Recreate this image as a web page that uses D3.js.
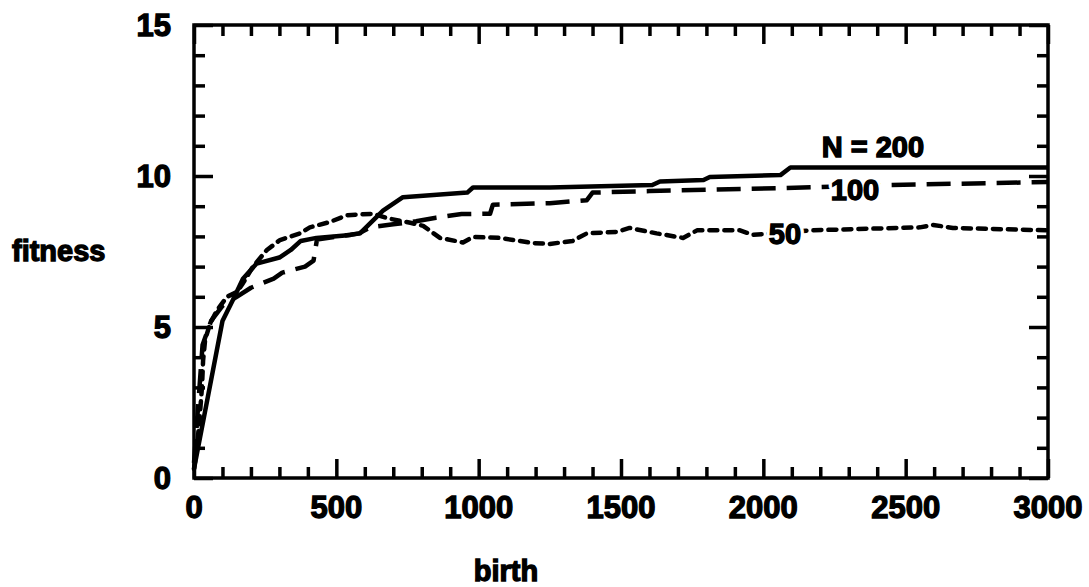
<!DOCTYPE html>
<html>
<head>
<meta charset="utf-8">
<script src="https://cdn.jsdelivr.net/npm/d3@7"></script>
<style>
    body { margin: 0; background: #fff; }
    text { font-family: "Liberation Sans", Arial, Helvetica, sans-serif; font-weight: bold; }
    .tick line { stroke: #000; stroke-width: 3.5px; }
    .domain { display: none; }
</style>
</head>
<body>
<div id="chart"></div>
<script>
// birth / fitness readings for each population size
let birth200 = [0, 100, 137, 172, 220, 300, 340, 375, 430, 550, 583, 664, 734, 960, 980, 1250, 1610, 1637, 1790, 1812, 2060, 2095, 3000];
let fit200 = [0.3, 5.2, 5.9, 6.6, 7.1, 7.3, 7.55, 7.85, 7.95, 8.05, 8.1, 8.85, 9.3, 9.45, 9.62, 9.62, 9.7, 9.82, 9.87, 9.97, 10.03, 10.28, 10.28];

let birth100 = [0, 30, 60, 100, 150, 200, 280, 310, 390, 420, 432, 580, 620, 700, 780, 850, 940, 1040, 1050, 1250, 1380, 1400, 1600, 2060, 2430, 3000];
let fit100 = [0.5, 4.4, 5.2, 5.7, 6.0, 6.3, 6.6, 6.8, 7.0, 7.2, 7.9, 8.1, 8.3, 8.4, 8.5, 8.62, 8.74, 8.75, 9.05, 9.1, 9.2, 9.45, 9.5, 9.6, 9.7, 9.8];

let birth50 = [0, 10, 21, 28, 32, 39, 56, 81, 116, 151, 172, 207, 256, 302, 372, 407, 478, 537, 630, 680, 760, 805, 864, 945, 980, 1075, 1190, 1250, 1330, 1380, 1485, 1530, 1625, 1718, 1767, 1918, 1964, 2164, 2550, 2596, 2666, 3000];
let fit50 = [0.3, 0.93, 2.15, 3.0, 3.9, 4.57, 5.1, 5.56, 6.0, 6.16, 6.45, 7.0, 7.55, 7.88, 8.1, 8.3, 8.48, 8.7, 8.75, 8.6, 8.45, 8.35, 7.95, 7.8, 7.98, 7.95, 7.78, 7.75, 7.85, 8.1, 8.15, 8.28, 8.1, 7.95, 8.2, 8.2, 8.05, 8.2, 8.3, 8.38, 8.28, 8.2];

let xTickLabels = [0, 500, 1000, 1500, 2000, 2500, 3000];
let xMinorTicks = [100, 200, 300, 400, 600, 700, 800, 900, 1100, 1200, 1300, 1400, 1600, 1700, 1800, 1900, 2100, 2200, 2300, 2400, 2600, 2700, 2800, 2900];
let yTickLabels = [0, 5, 10, 15];
let yMinorTicks = [1, 2, 3, 4, 6, 7, 8, 9, 11, 12, 13, 14];

// curve labels: text, birth, fitness (anchor point)
let seriesLabels = [
    {text: "N = 200", b: 2385, f: 10.95},
    {text: "100", b: 2322, f: 9.54},
    {text: "50", b: 2076, f: 8.1}
];

let width = 1089, height = 587;
let margin = {left: 194, right: 41, top: 25, bottom: 109};

let svg = d3.select('#chart').append('svg')
    .attr('width', width)
    .attr('height', height);

let x = d3.scaleLinear().domain([0, 3000]).range([margin.left, width - margin.right]);
let y = d3.scaleLinear().domain([0, 15]).range([height - margin.bottom, margin.top]);

let line = d3.line()
    .x(function(d){ return x(d[0]); })
    .y(function(d){ return y(d[1]); });

function pairs(bs, fs) {
    return bs.map(function(b, i){ return [b, fs[i]]; });
}

//Draw the three series
let series = [
    {data: pairs(birth50, fit50), dash: "8,7", cap: "round"},
    {data: pairs(birth100, fit100), dash: "24,11", cap: "butt"},
    {data: pairs(birth200, fit200), dash: null, cap: "butt"}
];
series.forEach(function(s){
    svg.append('path')
        .attr('d', line(s.data))
        .attr('fill', 'none')
        .attr('stroke', '#000')
        .attr('stroke-width', 4.5)
        .attr('stroke-linecap', s.cap)
        .attr('stroke-linejoin', 'round')
        .attr('stroke-dasharray', s.dash);
});

//Curve labels, white halo cuts the lines underneath
seriesLabels.forEach(function(l){
    svg.append('text')
        .attr('x', x(l.b)).attr('y', y(l.f))
        .attr('text-anchor', 'middle')
        .attr('dy', '0.35em')
        .style('font-size', '29px')
        .attr('fill', '#000')
        .attr('stroke', '#fff')
        .attr('stroke-width', 8)
        .attr('stroke-linejoin', 'round')
        .attr('paint-order', 'stroke')
        .text(l.text);
    svg.append('text')
        .attr('x', x(l.b)).attr('y', y(l.f))
        .attr('text-anchor', 'middle')
        .attr('dy', '0.35em')
        .style('font-size', '29px')
        .attr('fill', '#000')
        .attr('stroke', '#000')
        .attr('stroke-width', 1.3)
        .text(l.text);
});

//Inward ticks on all four sides, major and minor, via d3 axes
function addTicks(axisFn, scale, values, len, tx, ty) {
    svg.append('g')
        .attr('transform', 'translate(' + tx + ',' + ty + ')')
        .call(axisFn(scale).tickValues(values).tickSize(len).tickFormat(''));
}
addTicks(d3.axisBottom, x, xTickLabels, -19, 0, y(0));
addTicks(d3.axisBottom, x, xMinorTicks, -11, 0, y(0));
addTicks(d3.axisTop, x, xTickLabels, -19, 0, y(15));
addTicks(d3.axisTop, x, xMinorTicks, -11, 0, y(15));
addTicks(d3.axisLeft, y, yTickLabels, -19, x(0), 0);
addTicks(d3.axisLeft, y, yMinorTicks, -11, x(0), 0);
addTicks(d3.axisRight, y, yTickLabels, -19, x(3000), 0);
addTicks(d3.axisRight, y, yMinorTicks, -11, x(3000), 0);

//Frame
svg.append('rect')
    .attr('x', x(0)).attr('y', y(15))
    .attr('width', x(3000) - x(0)).attr('height', y(0) - y(15))
    .attr('fill', 'none')
    .attr('stroke', '#000')
    .attr('stroke-width', 3.5);

//Tick labels
svg.selectAll('text.xlab').data(xTickLabels).enter().append('text')
    .attr('class', 'xlab')
    .attr('x', function(d){ return x(d); })
    .attr('y', 518)
    .attr('text-anchor', 'middle')
    .style('font-size', '31px')
    .attr('stroke', '#000').attr('stroke-width', 1.3)
    .text(function(d){ return d; });

svg.selectAll('text.ylab').data(yTickLabels).enter().append('text')
    .attr('class', 'ylab')
    .attr('x', 171)
    .attr('y', function(d){ return y(d); })
    .attr('dy', '0.36em')
    .attr('text-anchor', 'end')
    .style('font-size', '31px')
    .attr('stroke', '#000').attr('stroke-width', 1.3)
    .text(function(d){ return d; });

//Axis titles
svg.append('text')
    .attr('x', 506).attr('y', 581)
    .attr('text-anchor', 'middle')
    .style('font-size', '29px')
    .attr('stroke', '#000').attr('stroke-width', 1.3)
    .text('birth');

svg.append('text')
    .attr('x', 12).attr('y', 261)
    .attr('text-anchor', 'start')
    .style('font-size', '29px')
    .attr('stroke', '#000').attr('stroke-width', 1.3)
    .text('fitness');
</script>
</body>
</html>
